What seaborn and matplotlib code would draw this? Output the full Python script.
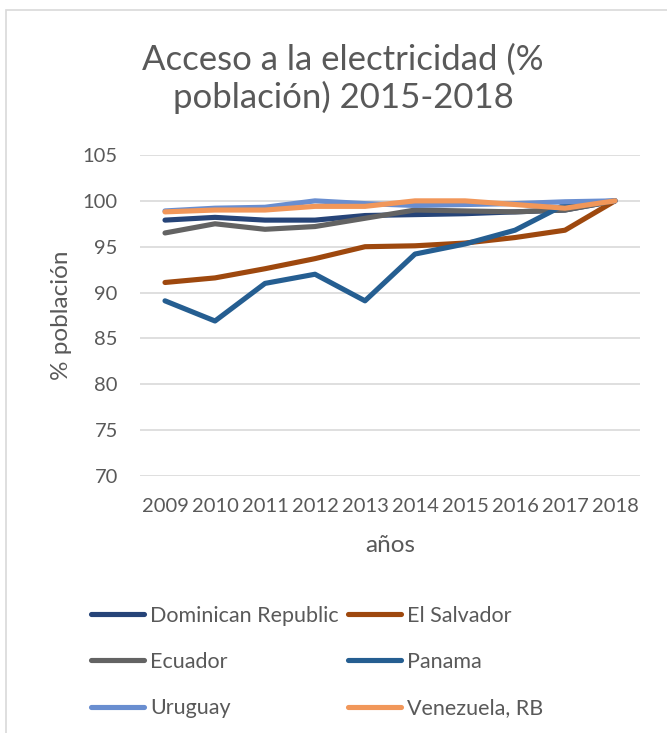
import matplotlib
matplotlib.use("Agg")
import matplotlib.pyplot as plt
import seaborn as sns
import pandas as pd
from matplotlib.patches import Rectangle

years = ["2009", "2010", "2011", "2012", "2013", "2014", "2015", "2016", "2017", "2018"]
dominican_republic = [97.9, 98.2, 97.9, 97.9, 98.4, 98.5, 98.6, 98.8, 99.0, 100.0]
el_salvador = [91.1, 91.6, 92.6, 93.7, 95.0, 95.1, 95.4, 96.0, 96.8, 100.0]
ecuador = [96.5, 97.5, 96.9, 97.2, 98.1, 99.0, 98.9, 98.8, 99.0, 100.0]
panama = [89.1, 86.9, 91.0, 92.0, 89.1, 94.2, 95.3, 96.8, 99.6, 100.0]
uruguay = [98.9, 99.2, 99.3, 100.0, 99.7, 99.5, 99.6, 99.7, 99.9, 100.0]
venezuela = [98.8, 99.0, 99.0, 99.4, 99.4, 100.0, 100.0, 99.6, 99.2, 100.0]

series = {
    "Dominican Republic": dominican_republic,
    "El Salvador": el_salvador,
    "Ecuador": ecuador,
    "Panama": panama,
    "Uruguay": uruguay,
    "Venezuela, RB": venezuela,
}
colors = ["#264478", "#9E480E", "#636363", "#255E91", "#698ED0", "#F1975A"]

rows = []
for name, vals in series.items():
    for i, (y, v) in enumerate(zip(years, vals)):
        rows.append({"idx": i, "year": y, "country": name, "value": v})
df = pd.DataFrame(rows)

sns.set_theme(style="white")
FONT = ["Lato", "DejaVu Sans"]
plt.rcParams["font.family"] = FONT
TXT = "#595959"

fig = plt.figure(figsize=(6.67, 7.33), dpi=100)
fig.patches.append(Rectangle((6 / 667, -0.05), 1.2, 1 - 10 / 733 + 0.05,
                             transform=fig.transFigure, fill=False,
                             edgecolor="#D9D9D9", linewidth=1.2, zorder=0))

ax = fig.add_axes([140 / 667, 1 - 476 / 733, 500 / 667, 321 / 733])
sns.lineplot(data=df, x="idx", y="value", hue="country", palette=colors,
             linewidth=3.7, ax=ax, legend=True, sort=False)
for ln in ax.get_lines():
    ln.set_solid_capstyle("round")
    ln.set_solid_joinstyle("round")

ax.set_xlim(-0.5, 9.5)
ax.set_ylim(70, 105)
ax.set_yticks([70, 75, 80, 85, 90, 95, 100, 105])
ax.set_xticks(range(len(years)))
ax.set_xticklabels(years)
ax.grid(axis="y", color="#D9D9D9", linewidth=1.2)
ax.grid(axis="x", visible=False)
for s in ax.spines.values():
    s.set_visible(False)
ax.tick_params(axis="both", length=0, labelsize=14.5, colors=TXT)
ax.tick_params(axis="y", pad=16)
ax.tick_params(axis="x", pad=16)
ax.set_xlabel("años", fontsize=17.5, color=TXT, labelpad=14)
ax.set_ylabel("% población", fontsize=17.5, color=TXT, labelpad=8)

fig.text(343 / 667, 1 - 79 / 733, "Acceso a la electricidad (%\npoblación) 2015-2018",
         ha="center", va="center", fontsize=25, color=TXT, linespacing=1.2)

handles, labels = ax.get_legend_handles_labels()
ax.get_legend().remove()
for h in handles:
    h.set_linewidth(3.7)
    h.set_solid_capstyle("round")
order = [0, 2, 4, 1, 3, 5]
handles = [handles[i] for i in order]
labels = [labels[i] for i in order]
leg = fig.legend(handles, labels, ncol=2, loc="upper left",
                 bbox_to_anchor=(80 / 667, 1 - 595 / 733), frameon=False,
                 fontsize=15.5, handlelength=2.47, handletextpad=0.3,
                 columnspacing=0.4, labelspacing=1.22, borderpad=0,
                 labelcolor=TXT)

fig.savefig("out.png", dpi=100)
